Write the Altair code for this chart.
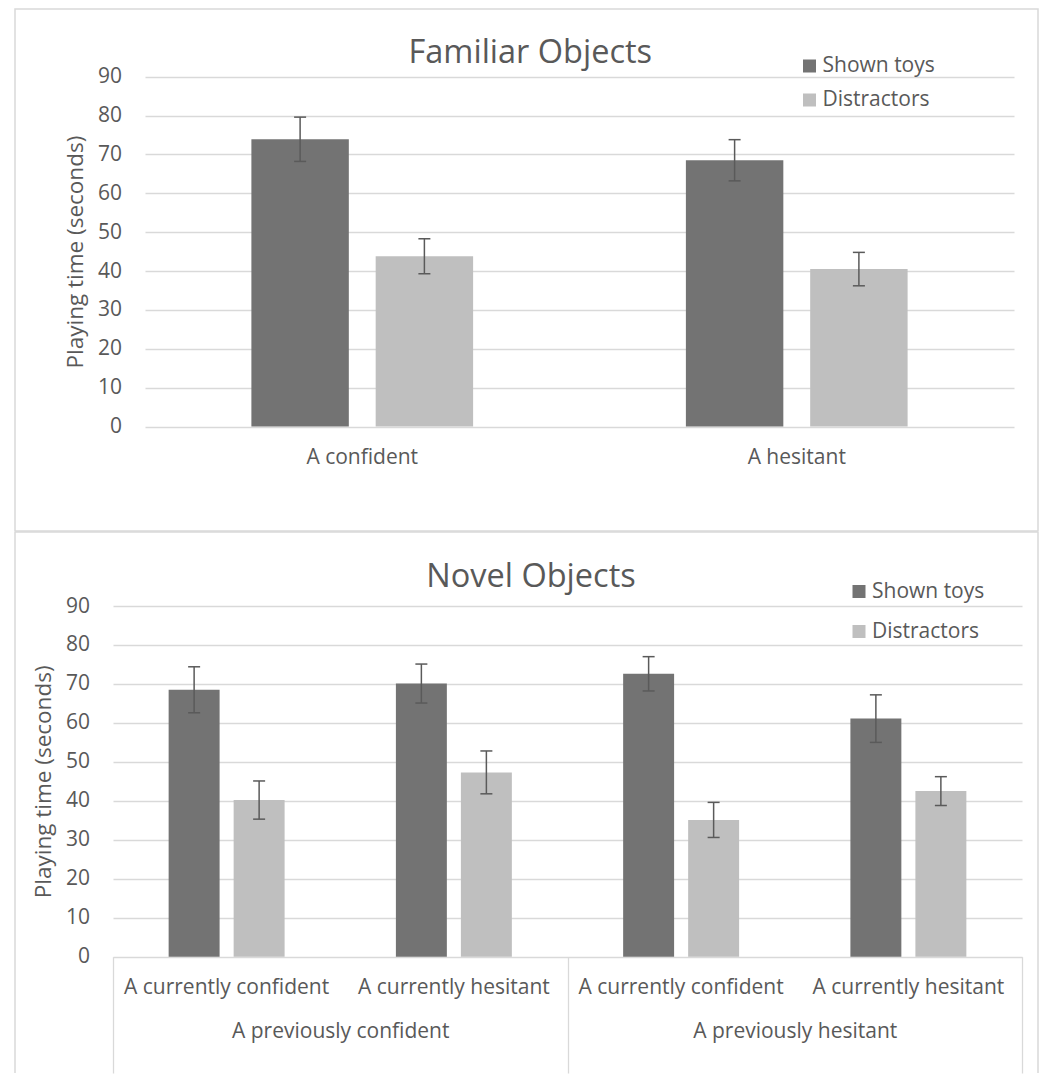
import altair as alt
import pandas as pd

FONT = "Open Sans"
TXT = "#595959"
GRID = "#d9d9d9"
BAR_ERR = "#5a5a5a"

SERIES = ["Shown toys", "Distractors"]
COLORS = ["#737373", "#bfbfbf"]
Y_TICKS = [0, 10, 20, 30, 40, 50, 60, 70, 80, 90]
Y_TITLE = "Playing time (seconds)"

# ---- Familiar objects ----
fam_title = "Familiar Objects"
fam_cats = ["A confident", "A hesitant"]
fam_shown = [73.9, 68.5]
fam_shown_err = [5.7, 5.3]
fam_distr = [43.8, 40.5]
fam_distr_err = [4.5, 4.3]

# ---- Novel objects ----
nov_title = "Novel Objects"
nov_prev = ["A previously confident", "A previously confident",
            "A previously hesitant", "A previously hesitant"]
nov_curr = ["A currently confident", "A currently hesitant",
            "A currently confident", "A currently hesitant"]
nov_groups = ["A previously confident", "A previously hesitant"]
nov_shown = [68.5, 70.1, 72.6, 61.1]
nov_shown_err = [5.9, 5.0, 4.4, 6.1]
nov_distr = [40.2, 47.3, 35.1, 42.5]
nov_distr_err = [4.9, 5.5, 4.5, 3.7]


def long_df(keys, shown, shown_err, distr, distr_err):
    rows = []
    for i, k in enumerate(keys):
        for s, m, e in ((SERIES[0], shown[i], shown_err[i]),
                        (SERIES[1], distr[i], distr_err[i])):
            rows.append({"cat": k, "series": s, "mean": m,
                         "lo": round(m - e, 2), "hi": round(m + e, 2)})
    return pd.DataFrame(rows)


fam_df = long_df(fam_cats, fam_shown, fam_shown_err, fam_distr, fam_distr_err)
nov_keys = [p + "|" + c for p, c in zip(nov_prev, nov_curr)]
nov_df = long_df(nov_keys, nov_shown, nov_shown_err, nov_distr, nov_distr_err)

one = pd.DataFrame({"k": [0]})

VIEW_W = 1023


def make_panel(df, cats, x_rng, y_rng, y_off, x_off, x_label_pad,
               label_expr, legend_x, legend_y, row_pad, title, title_xy):
    y_axis = alt.Axis(values=Y_TICKS, grid=True, gridColor=GRID, gridWidth=1.3,
                      domain=False, ticks=False, labelPadding=23.5, offset=y_off,
                      labelFont=FONT, labelFontSize=21, labelColor=TXT,
                      labelOverlap=False,
                      titleFont=FONT, titleFontSize=22.5, titleColor=TXT,
                      titleFontWeight="normal", titlePadding=9.5)
    y_scale = alt.Scale(domain=[0, 90], nice=False, zero=True, range=y_rng)

    def y_enc(field):
        return alt.Y(f"{field}:Q", title=Y_TITLE, scale=y_scale, axis=y_axis)

    x_axis_kw = dict(domain=False, ticks=False, grid=False, labelAngle=0,
                     offset=x_off, labelPadding=x_label_pad,
                     labelBaseline="alphabetic", labelLimit=500,
                     labelFont=FONT, labelFontSize=21, labelColor=TXT)
    if label_expr:
        x_axis_kw["labelExpr"] = label_expr
    x = alt.X("cat:N", sort=cats, title=None,
              scale=alt.Scale(paddingInner=0, paddingOuter=0, range=x_rng),
              axis=alt.Axis(**x_axis_kw))
    xoff = alt.XOffset("series:N", sort=SERIES,
                       scale=alt.Scale(paddingInner=0.216, paddingOuter=0.856))

    base = alt.Chart(df)
    bars = base.mark_bar().encode(
        x=x, xOffset=xoff, y=y_enc("mean"),
        color=alt.Color("series:N", sort=SERIES,
                        scale=alt.Scale(domain=SERIES, range=COLORS),
                        legend=alt.Legend(orient="none", legendX=legend_x,
                                          legendY=legend_y, title=None,
                                          symbolType="square", symbolSize=169,
                                          symbolStrokeWidth=0, symbolOpacity=1,
                                          labelFont=FONT, labelFontSize=21,
                                          labelColor=TXT, labelOffset=2.5,
                                          rowPadding=row_pad, padding=0)),
    )
    rules = base.mark_rule(color=BAR_ERR, strokeWidth=1.5).encode(
        x=x, xOffset=xoff, y=y_enc("lo"), y2="hi")
    caps = base.transform_fold(["lo", "hi"], as_=["end", "val"]).mark_tick(
        color=BAR_ERR, thickness=1.5, size=12, opacity=1).encode(
        x=x, xOffset=xoff, y=y_enc("val"))
    ttl = alt.Chart(one).mark_text(
        font=FONT, fontSize=32.5, color=TXT, align="center",
        baseline="alphabetic").encode(
        x=alt.value(title_xy[0]), y=alt.value(title_xy[1]),
        text=alt.value(title))
    return alt.layer(bars, rules, caps, ttl)


# ---------------- top panel (view = whole bordered box) ----------------
TOP_H = 522
top_core = make_panel(fam_df, fam_cats, [130, 999], [417.5, 67.7],
                      -130, -(TOP_H - 417.5), 36.5, None, 784, 46.5, 12,
                      fam_title, (515.3, 54.3))
top = top_core.properties(
    width=VIEW_W, height=TOP_H,
    view=alt.ViewBackground(stroke=GRID, strokeWidth=1.5))

# ---------------- bottom panel ----------------
BOT_H = 541
bot_yzero = 424.7
bot_core = make_panel(nov_df, nov_keys, [98, 1007], [bot_yzero, 74],
                      -98, -(BOT_H - bot_yzero), 36.6,
                      "split(datum.label, '|')[1]", 833.5, 49, 18,
                      nov_title, (516, 54.7))

grp_df = pd.DataFrame({"group": nov_groups})
grp_layer = alt.Chart(grp_df).mark_tick(opacity=0).encode(
    x=alt.X("group:N", sort=nov_groups, title=None,
            scale=alt.Scale(paddingInner=0, paddingOuter=0, range=[98, 1007]),
            axis=alt.Axis(orient="bottom", domain=False, ticks=True,
                          offset=-(BOT_H - bot_yzero),
                          tickBand="extent", tickSize=BOT_H - bot_yzero,
                          tickColor=GRID, tickWidth=1.3, grid=False,
                          labelAngle=0, labelLimit=500,
                          labelPadding=80.6 - (BOT_H - bot_yzero),
                          labelBaseline="alphabetic",
                          labelFont=FONT, labelFontSize=21, labelColor=TXT)))

b_top = alt.Chart(one).mark_rule(color=GRID, strokeWidth=1.5).encode(
    x=alt.value(0), x2=alt.value(VIEW_W), y=alt.value(0))
b_left = alt.Chart(one).mark_rule(color=GRID, strokeWidth=1.5).encode(
    x=alt.value(0), y=alt.value(0), y2=alt.value(BOT_H))
b_right = alt.Chart(one).mark_rule(color=GRID, strokeWidth=1.5).encode(
    x=alt.value(VIEW_W), y=alt.value(0), y2=alt.value(BOT_H))

bottom = alt.layer(b_top, b_left, b_right, bot_core, grp_layer).resolve_scale(
    x="independent").properties(width=VIEW_W, height=BOT_H)

chart = alt.vconcat(top, bottom, spacing=-1).resolve_scale(
    x="independent", y="independent", color="independent",
    xOffset="independent").properties(
    padding={"left": 6, "top": 0, "right": 0, "bottom": 0}
).configure_view(strokeWidth=0)

chart.save("out.html", embed_options={"renderer": "svg", "actions": False})
